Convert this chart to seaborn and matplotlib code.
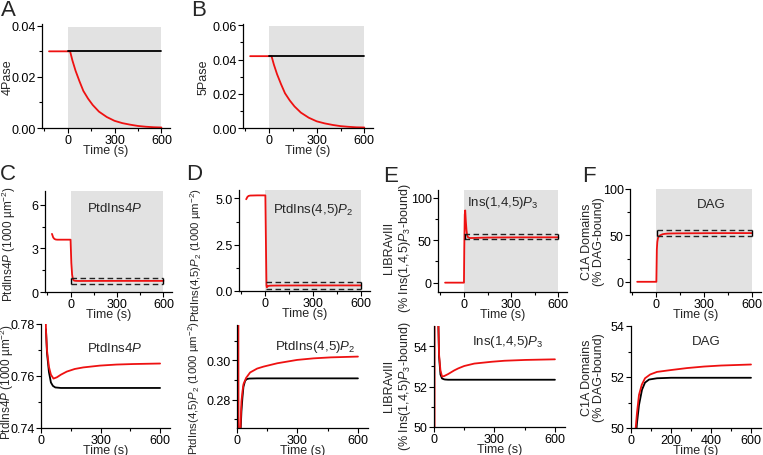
import matplotlib
matplotlib.use('Agg')
import matplotlib.pyplot as plt
from matplotlib.ticker import FixedLocator, FormatStrFormatter
import seaborn as sns

sns.set_style('ticks')
plt.rcParams['font.family'] = ['Liberation Sans', 'DejaVu Sans']
plt.rcParams['mathtext.fontset'] = 'custom'
plt.rcParams['mathtext.rm'] = 'Liberation Sans'
plt.rcParams['mathtext.it'] = 'Liberation Sans:italic'
plt.rcParams['font.size'] = 8.5

RED = '#ee1111'
GRAY = '#e2e2e2'
FS = 8.5

# ---- data ----
# A / B : phosphatase activity
ab_t = [-120, 0, 15, 30, 50, 75, 100, 130, 160, 200, 250, 300, 350, 400, 450, 500, 550, 600]
a_red = [0.03, 0.03, 0.03, 0.0264, 0.0224, 0.0183, 0.0145, 0.0115, 0.0090, 0.0064,
         0.0043, 0.0028, 0.0019, 0.0013, 0.0008, 0.0005, 0.0003, 0.0002]
b_red = [0.042, 0.042, 0.042, 0.037, 0.0314, 0.0256, 0.0203, 0.0161, 0.0126, 0.0090,
         0.0060, 0.0039, 0.0027, 0.0018, 0.0011, 0.0007, 0.0004, 0.0003]
ab_black_t = [0, 600]
a_black = [0.03, 0.03]
b_black = [0.042, 0.042]

# C : PtdIns4P
c_t = [-120, -112, -104, -95, -85, 0, 5, 10, 15, 20, 25, 30, 40, 50, 63, 80, 100,
       130, 170, 213, 297, 380, 463, 600]
c_red = [4.0, 3.75, 3.65, 3.61, 3.6, 3.6, 2.0, 1.2, 0.9, 0.80, 0.778, 0.770, 0.7635,
         0.7605, 0.759, 0.7595, 0.7605, 0.7617, 0.7627, 0.7633, 0.764, 0.7644, 0.7646, 0.7648]
c_black_t = [25, 30, 40, 50, 60, 72, 100, 600]
c_black = [0.778, 0.769, 0.7615, 0.7575, 0.7562, 0.7556, 0.7554, 0.7554]
c_band = [0.57, 0.98]

# D : PtdIns(4,5)P2
d_t = [-120, -112, -105, -95, -50, 0, 3, 6, 7, 9, 13, 17, 22, 27, 32, 45, 65, 100,
       132, 200, 298, 380, 465, 600]
d_red = [4.95, 5.08, 5.13, 5.15, 5.16, 5.16, 3.0, 0.9, 0.3, 0.2, 0.24, 0.265, 0.279,
         0.284, 0.2878, 0.291, 0.2938, 0.2958, 0.2968, 0.2985, 0.3002, 0.301, 0.3015, 0.3019]
d_black_t = [17, 22, 27, 32, 40, 48, 60, 100, 600]
d_black = [0.262, 0.274, 0.281, 0.2865, 0.2895, 0.2904, 0.2907, 0.2908, 0.2908]
d_band = [0.13, 0.48]

# E : Ins(1,4,5)P3
e_t = [-120, 0, 2, 5, 8, 12, 16, 20, 25, 32, 40, 50, 70, 100, 120, 150, 200, 287,
       350, 453, 600]
e_red = [0, 0, 40, 80, 85, 72, 62, 56, 53.6, 52.8, 52.5, 52.52, 52.62, 52.8, 52.9,
         53.02, 53.14, 53.23, 53.28, 53.32, 53.35]
e_black_t = [20, 25, 32, 40, 50, 55, 70, 100, 600]
e_black = [55.8, 53.5, 52.6, 52.4, 52.36, 52.35, 52.34, 52.34, 52.34]
e_band = [50.8, 57.1]

# F : DAG
f_t = [-120, 0, 3, 6, 10, 15, 20, 24, 30, 40, 54, 70, 96, 130, 197, 280, 365, 450, 600]
f_red = [0, 0, 35, 43, 47, 49, 49.7, 50.05, 50.6, 51.3, 51.7, 51.95, 52.1, 52.2,
         52.27, 52.35, 52.41, 52.45, 52.49]
f_black_t = [24, 30, 40, 55, 70, 90, 130, 200, 600]
f_black = [49.6, 50.2, 50.9, 51.5, 51.78, 51.9, 51.95, 51.97, 51.97]
f_band = [49.3, 56.1]

W, H = 763, 456
fig = plt.figure(figsize=(W / 100, H / 100), dpi=100)


def make_ax(l, t, r, b):
    return fig.add_axes([l / W, 1 - b / H, (r - l) / W, (b - t) / H])


def style(ax, xlim, ylim, xmaj, xmin, ymaj, ymin, yfmt, gray_top=1.0):
    ax.set_xlim(*xlim)
    ax.set_ylim(*ylim)
    ax.xaxis.set_major_locator(FixedLocator(xmaj))
    ax.xaxis.set_minor_locator(FixedLocator(xmin))
    ax.yaxis.set_major_locator(FixedLocator(ymaj))
    ax.yaxis.set_minor_locator(FixedLocator(ymin))
    ax.yaxis.set_major_formatter(FormatStrFormatter(yfmt))
    ax.tick_params(which='major', direction='out', length=3.5, width=0.8, pad=1,
                   labelsize=FS + 0.5, color='k', labelcolor='k')
    ax.tick_params(which='minor', direction='out', length=2, width=0.8, color='k')
    for s in ['left', 'bottom']:
        ax.spines[s].set_linewidth(0.9)
        ax.spines[s].set_color('k')
    sns.despine(ax=ax)
    ax.set_xlabel('Time (s)', fontsize=FS + 0.5, labelpad=-1.5)
    ax.set_ylabel('')
    ax.set_facecolor('none')
    if gray_top:
        ax.axvspan(0, 600, ymin=0, ymax=gray_top, color=GRAY, lw=0, zorder=0)


def line(ax, t, y, color):
    sns.lineplot(x=t, y=y, ax=ax, color=color, lw=1.3, estimator=None, sort=False,
                 legend=False)


def band(ax, lo_hi, left=True):
    ax.hlines(lo_hi, 3, 600, colors='#222222', linestyles=(0, (4, 2.5)), lw=1, zorder=3)
    ax.vlines([600], lo_hi[0], lo_hi[1], colors='k', lw=1, zorder=3)
    if left:
        ax.vlines([5], lo_hi[0], lo_hi[1], colors='k', lw=1, zorder=3)


def ylab(x, yc, text, fs=FS + 0.5):
    fig.text(x / W, 1 - yc / H, text, rotation=90, ha='center', va='center',
             fontsize=fs, multialignment='center', linespacing=1.1)


top_x = dict(xlim=(-165, 655), xmaj=[0, 300, 600], xmin=[-150, 150, 450])
bot_x = dict(xlim=(0, 650), xmaj=[0, 300, 600], xmin=[150, 450])

# ---- A ----
ax = make_ax(42, 25, 170, 129)
style(ax, ylim=(0, 0.0407), ymaj=[0, 0.02, 0.04], ymin=[0.01, 0.03], yfmt='%.2f',
      gray_top=0.975, **top_x)
line(ax, ab_t, a_red, RED)
line(ax, ab_black_t, a_black, 'k')
ylab(8, 77, '4Pase')

# ---- B ----
ax = make_ax(243, 25, 373, 129)
style(ax, ylim=(0, 0.0608), ymaj=[0, 0.02, 0.04, 0.06], ymin=[0.01, 0.03, 0.05],
      yfmt='%.2f', gray_top=0.985, **top_x)
line(ax, ab_t, b_red, RED)
line(ax, ab_black_t, b_black, 'k')
ylab(204, 77, '5Pase')

# ---- C top ----
ax = make_ax(45, 192, 172, 293)
style(ax, ylim=(0, 6.95), ymaj=[0, 3, 6], ymin=[1.5, 4.5], yfmt='%g', **top_x)
band(ax, c_band)
line(ax, c_t, c_red, RED)
ax.text(0.55, 0.84, 'PtdIns4$P$', transform=ax.transAxes, ha='center', va='center', fontsize=FS + 1)
ylab(9, 244, 'PtdIns4$P$ (1000 µm$^{-2}$)', fs=FS)

# ---- D top ----
ax = make_ax(239, 191, 370, 292)
style(ax, ylim=(0, 5.45), ymaj=[0, 2.5, 5.0], ymin=[1.25, 3.75], yfmt='%.1f', **top_x)
band(ax, d_band, left=False)
line(ax, d_t, d_red, RED)
ax.text(0.565, 0.81, 'PtdIns(4,5)$P_2$', transform=ax.transAxes, ha='center', va='center', fontsize=FS + 1)
ylab(196, 255, 'PtdIns(4,5)$P_2$ (1000 µm$^{-2}$)', fs=FS - 0.3)

# ---- E top ----
ax = make_ax(438, 191, 567, 293)
style(ax, ylim=(-11, 109), ymaj=[0, 50, 100], ymin=[25, 75], yfmt='%g', **top_x)
band(ax, e_band)
line(ax, e_t, e_red, RED)
ax.text(0.50, 0.88, 'Ins(1,4,5)$P_3$', transform=ax.transAxes, ha='center', va='center', fontsize=FS + 1)
ylab(398, 248, 'LIBRAvIII\n(% Ins(1,4,5)$P_3$-bound)')

# ---- F top ----
ax = make_ax(630, 190, 761, 293)
style(ax, ylim=(-11, 100), ymaj=[0, 50, 100], ymin=[25, 75], yfmt='%g', **top_x)
band(ax, f_band)
line(ax, f_t, f_red, RED)
ax.text(0.617, 0.85, 'DAG', transform=ax.transAxes, ha='center', va='center', fontsize=FS + 1)
ylab(593, 242, 'C1A Domains\n(% DAG-bound)')

# ---- C bottom ----
ax = make_ax(41, 325, 170, 429)
style(ax, ylim=(0.74, 0.78), ymaj=[0.74, 0.76, 0.78], ymin=[0.75, 0.77], yfmt='%.2f',
      gray_top=0, **bot_x)
line(ax, c_black_t, c_black, 'k')
line(ax, c_t, c_red, RED)
ax.text(0.574, 0.77, 'PtdIns4$P$', transform=ax.transAxes, ha='center', va='center', fontsize=FS + 1)
ylab(7, 382, 'PtdIns4$P$ (1000 µm$^{-2}$)', fs=FS)

# ---- D bottom ----
ax = make_ax(237, 326, 368, 429)
style(ax, ylim=(0.2655, 0.318), ymaj=[0.28, 0.30], ymin=[0.27, 0.29, 0.31], yfmt='%.2f',
      gray_top=0, **bot_x)
line(ax, d_black_t, d_black, 'k')
line(ax, d_t, d_red, RED)
ax.text(0.595, 0.80, 'PtdIns(4,5)$P_2$', transform=ax.transAxes, ha='center', va='center', fontsize=FS + 1)
ylab(194, 388, 'PtdIns(4,5)$P_2$ (1000 µm$^{-2}$)', fs=FS - 0.3)

# ---- E bottom ----
ax = make_ax(434, 327, 565, 428)
style(ax, ylim=(50, 55), ymaj=[50, 52, 54], ymin=[51, 53], yfmt='%g', gray_top=0, **bot_x)
line(ax, e_black_t, e_black, 'k')
line(ax, e_t, e_red, RED)
ax.text(0.565, 0.85, 'Ins(1,4,5)$P_3$', transform=ax.transAxes, ha='center', va='center', fontsize=FS + 1)
ylab(398, 386, 'LIBRAvIII\n(% Ins(1,4,5)$P_3$-bound)')

# ---- F bottom ----
ax = make_ax(631, 327, 761, 429)
style(ax, xlim=(0, 650), xmaj=[0, 200, 400, 600], xmin=[100, 300, 500],
      ylim=(50, 54), ymaj=[50, 52, 54], ymin=[51, 53], yfmt='%g', gray_top=0)
line(ax, f_black_t, f_black, 'k')
line(ax, f_t, f_red, RED)
ax.text(0.58, 0.85, 'DAG', transform=ax.transAxes, ha='center', va='center', fontsize=FS + 1)
ylab(593, 378, 'C1A Domains\n(% DAG-bound)')

# panel letters
for letter, x, y in [('A', 8, 11), ('B', 199, 10), ('C', 8, 175), ('D', 194, 175),
                     ('E', 391, 177), ('F', 589, 177)]:
    fig.text(x / W, 1 - y / H, letter, fontsize=16, ha='center', va='center')

fig.savefig('out.png', dpi=100)
